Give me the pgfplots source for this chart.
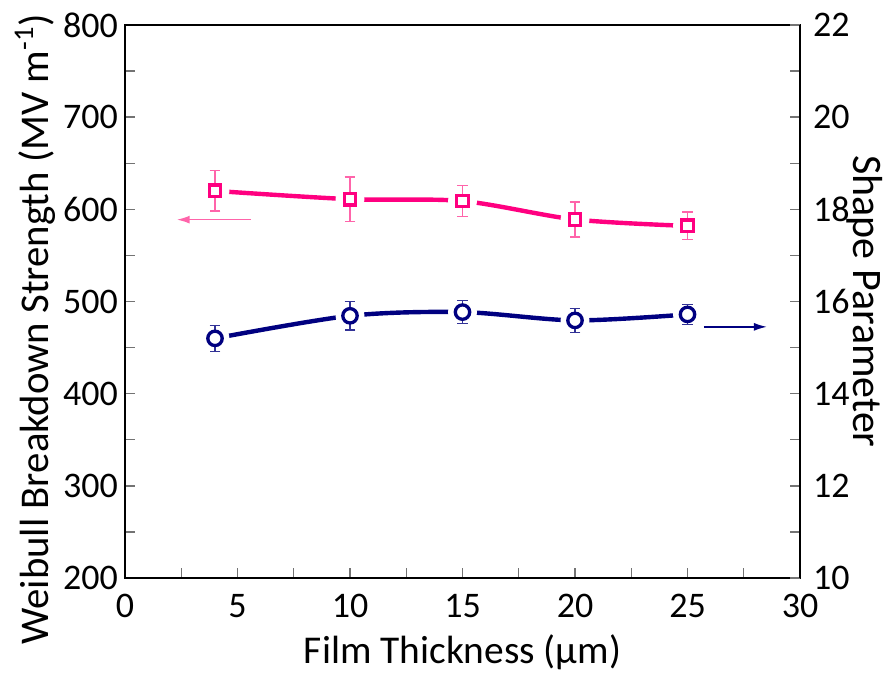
\documentclass[border=0pt]{standalone}
\usepackage{pgfplots}
\pgfplotsset{compat=1.18}
\usepackage{fontspec}
\setmainfont{Carlito}
\usetikzlibrary{arrows.meta}
\definecolor{pinkc}{RGB}{255,0,128}
\definecolor{pinkerr}{RGB}{255,100,170}
\definecolor{navyc}{RGB}{0,0,128}
\definecolor{navyerr}{RGB}{50,50,150}

\pgfplotsset{
  common/.style={scale only axis, width=337.5pt, height=276.5pt, xmin=0, xmax=30,
    clip marker paths=true,
    tick align=inside, major tick length=5pt, minor tick length=5pt,
    every tick/.style={color=black!55, line width=0.7pt},
    tick label style={font=\fontsize{18}{20}\selectfont},
    /pgf/number format/assume math mode=true,
    axis line style={line width=0.7pt}},
  halo/.style={only marks, mark=*, mark size=7pt, mark options={draw=white, fill=white}},
}

\begin{document}
\begin{tikzpicture}
\useasboundingbox (-62.5pt,-48.5pt) rectangle (381.5pt,289pt);
% left axis: breakdown strength
\begin{axis}[common, ymin=200, ymax=800, ytick={200,300,...,800}, xtick={0,5,...,30},
  minor x tick num=1, minor y tick num=1, xtick pos=bottom, ytick pos=left,
  xticklabel style={yshift=-4.5pt},
  xlabel={Film Thickness (μm)},
  ylabel={Weibull Breakdown Strength (MV m\textsuperscript{-1})},
  every axis x label/.style={at={(axis description cs:0.5,-0.134)}, anchor=center, font=\fontsize{19.7}{22}\selectfont},
  every axis y label/.style={at={(axis description cs:-0.1333,0.45)}, anchor=center, rotate=90, font=\fontsize{20.4}{22}\selectfont}]
\addplot[pinkc, line width=2.2pt, smooth, no markers] coordinates {(4,620)(10,611)(15,609)(20,589)(25,582)};
\addplot[halo] coordinates {(4,620)(10,611)(15,609)(20,589)(25,582)};
\addplot[pinkc, only marks, mark=square*, mark size=2.9pt,
  mark options={line width=1.65pt, draw=pinkc, fill=white},
  error bars/.cd, y dir=both, y explicit,
  error bar style={draw=pinkerr, line width=0.75pt},
  error mark options={rotate=90, mark size=2.7pt, draw=pinkerr, line width=0.75pt}]
  coordinates {(4,620) +- (0,22) (10,611) +- (0,24) (15,609) +- (0,17) (20,589) +- (0,19) (25,582) +- (0,15)};
\draw[pinkerr, line width=0.75pt, -{Latex[length=6.5pt, width=4pt]}] (axis cs:5.6,588.8) -- (axis cs:2.3,588.8);
\end{axis}
% right axis: shape parameter
\begin{axis}[common, axis x line=none, axis y line*=right, ymin=10, ymax=22, ytick={10,12,...,22},
  minor y tick num=1, ylabel={Shape Parameter}, yticklabel style={xshift=3pt},
  every axis y label/.style={at={(axis description cs:1.096,0.50)}, anchor=center, rotate=-90, font=\fontsize{21}{23}\selectfont}]
\addplot[navyc, line width=2.2pt, smooth, no markers] coordinates {(4,15.2)(10,15.69)(15,15.77)(20,15.59)(25,15.72)};
\addplot[halo] coordinates {(4,15.2)(10,15.69)(15,15.77)(20,15.59)(25,15.72)};
\addplot[navyc, only marks, mark=*, mark size=3.6pt,
  mark options={line width=1.65pt, draw=navyc, fill=white},
  error bars/.cd, y dir=both, y explicit,
  error bar style={draw=navyerr, line width=0.75pt},
  error mark options={rotate=90, mark size=2.7pt, draw=navyerr, line width=0.75pt}]
  coordinates {(4,15.2) +- (0,0.28) (10,15.69) +- (0,0.31) (15,15.77) +- (0,0.25) (20,15.59) +- (0,0.26) (25,15.72) +- (0,0.22)};
\draw[navyc, line width=0.75pt, -{Latex[length=6.5pt, width=4pt]}] (axis cs:25.73,15.45) -- (axis cs:28.53,15.45);
\end{axis}
\end{tikzpicture}
\end{document}
